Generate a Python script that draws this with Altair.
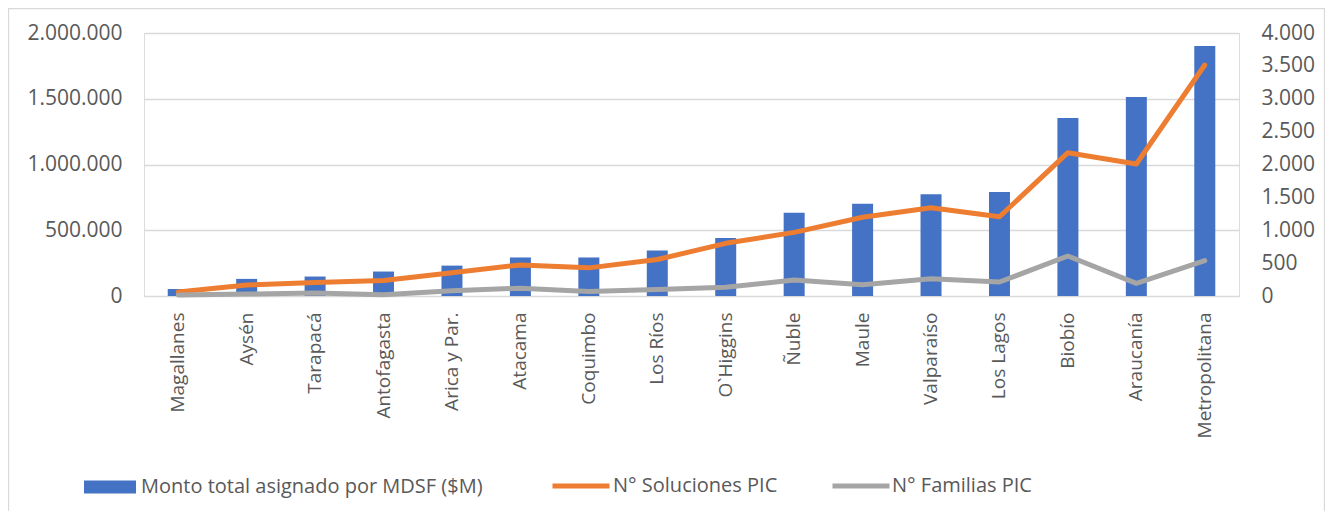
import altair as alt
import pandas as pd

regiones = ["Magallanes", "Aysén", "Tarapacá", "Antofagasta", "Arica y Par.", "Atacama",
            "Coquimbo", "Los Ríos", "O`Higgins", "Ñuble", "Maule", "Valparaíso",
            "Los Lagos", "Biobío", "Araucanía", "Metropolitana"]
monto = [53000, 130000, 148000, 186000, 231000, 293000, 293000, 346000,
         441000, 633000, 702000, 773000, 791000, 1354000, 1513000, 1901000]
soluciones = [60, 167, 205, 235, 355, 473, 428, 555,
              801, 968, 1197, 1343, 1206, 2180, 2008, 3513]
familias = [15, 30, 45, 20, 80, 118, 70, 100,
            132, 243, 172, 263, 213, 608, 193, 537]
series = ["Monto total asignado por MDSF ($M)", "N° Soluciones PIC", "N° Familias PIC"]

left_ticks = [0, 500000, 1000000, 1500000, 2000000]
right_ticks = [0, 500, 1000, 1500, 2000, 2500, 3000, 3500, 4000]

df = pd.DataFrame({"region": regiones, "monto": monto,
                   "soluciones": soluciones, "familias": familias,
                   "s_monto": series[0], "s_sol": series[1], "s_fam": series[2]})

FONT = "Open Sans"
TXT = "#595959"
GRID = "#d9d9d9"

# chart-area frame (decoration, as in the spreadsheet chart)
frame = alt.Chart(pd.DataFrame({"k": [0]})).mark_rect(
    fill=None, filled=False, stroke=GRID, strokeWidth=1.3
).encode(x=alt.value(-135.5), x2=alt.value(1180.5), y=alt.value(-24.5), y2=alt.value(494.5))

x_enc = alt.X("region:N", sort=regiones, title=None,
              scale=alt.Scale(paddingInner=0, paddingOuter=0),
              axis=alt.Axis(labelAngle=-90, ticks=False, domain=True, domainColor=GRID,
                            domainWidth=1, labelPadding=16, labelFont=FONT,
                            labelFontSize=19, labelColor=TXT, grid=False))

bars = alt.Chart(df).mark_bar(size=21).encode(
    x=x_enc,
    y=alt.Y("monto:Q", title=None, scale=alt.Scale(domain=[0, 2000000], nice=False),
            axis=alt.Axis(orient="left", values=left_ticks, format=",.0f", ticks=False,
                          domain=False, grid=True, gridColor=GRID, gridWidth=1.3,
                          labelPadding=22, labelFont=FONT, labelFontSize=21,
                          labelColor=TXT)),
    color=alt.Color("s_monto:N", scale=alt.Scale(range=["#4472C4"]),
                    legend=alt.Legend(title=None, orient="none", legendX=-60, legendY=428,
                                      symbolType="M-1,-0.25H1V0.25H-1Z", symbolSize=2704,
                                      symbolStrokeWidth=0, labelOffset=5, padding=0,
                                      labelLimit=0,
                                      labelFont=FONT, labelFontSize=20, labelColor=TXT)),
)

y_right = alt.Scale(domain=[0, 4000], nice=False)
right_axis = alt.Axis(orient="right", values=right_ticks, format=",.0f", ticks=False,
                      domain=False, grid=False, labelPadding=22, labelFont=FONT,
                      labelFontSize=21, labelColor=TXT)

orange = alt.Chart(df).mark_line(strokeWidth=5, strokeCap="round", strokeJoin="round").encode(
    x=alt.X("region:N", sort=regiones),
    y=alt.Y("soluciones:Q", title=None, scale=y_right, axis=right_axis),
    color=alt.Color("s_sol:N", scale=alt.Scale(range=["#ED7D31"]),
                    legend=alt.Legend(title=None, orient="none", legendX=406, legendY=422,
                                      symbolType="stroke", symbolSize=3249,
                                      symbolStrokeWidth=5, labelOffset=1, padding=0,
                                      labelLimit=0,
                                      labelFont=FONT, labelFontSize=20, labelColor=TXT)),
)

gray = alt.Chart(df).mark_line(strokeWidth=5, strokeCap="round", strokeJoin="round").encode(
    x=alt.X("region:N", sort=regiones),
    y=alt.Y("familias:Q", title=None, scale=y_right, axis=right_axis),
    color=alt.Color("s_fam:N", scale=alt.Scale(range=["#A5A5A5"]),
                    legend=alt.Legend(title=None, orient="none", legendX=686, legendY=422,
                                      symbolType="stroke", symbolSize=3249,
                                      symbolStrokeWidth=5, labelOffset=0, padding=0,
                                      labelLimit=0,
                                      labelFont=FONT, labelFontSize=20, labelColor=TXT)),
)

lines = alt.layer(orange, gray).resolve_scale(color="independent")

chart = alt.layer(frame, bars, lines).resolve_scale(
    y="independent", color="independent"
).properties(
    width=1095, height=263,
    autosize=alt.AutoSizeParams(type="none"),
    padding={"left": 136, "top": 25, "right": 86, "bottom": 215},
).configure_view(stroke=None).configure(
    locale={"number": {"decimal": ",", "thousands": ".", "grouping": [3],
                       "currency": ["$", ""]}}
)

chart.save("out.html", embed_options={"renderer": "svg", "actions": False})
